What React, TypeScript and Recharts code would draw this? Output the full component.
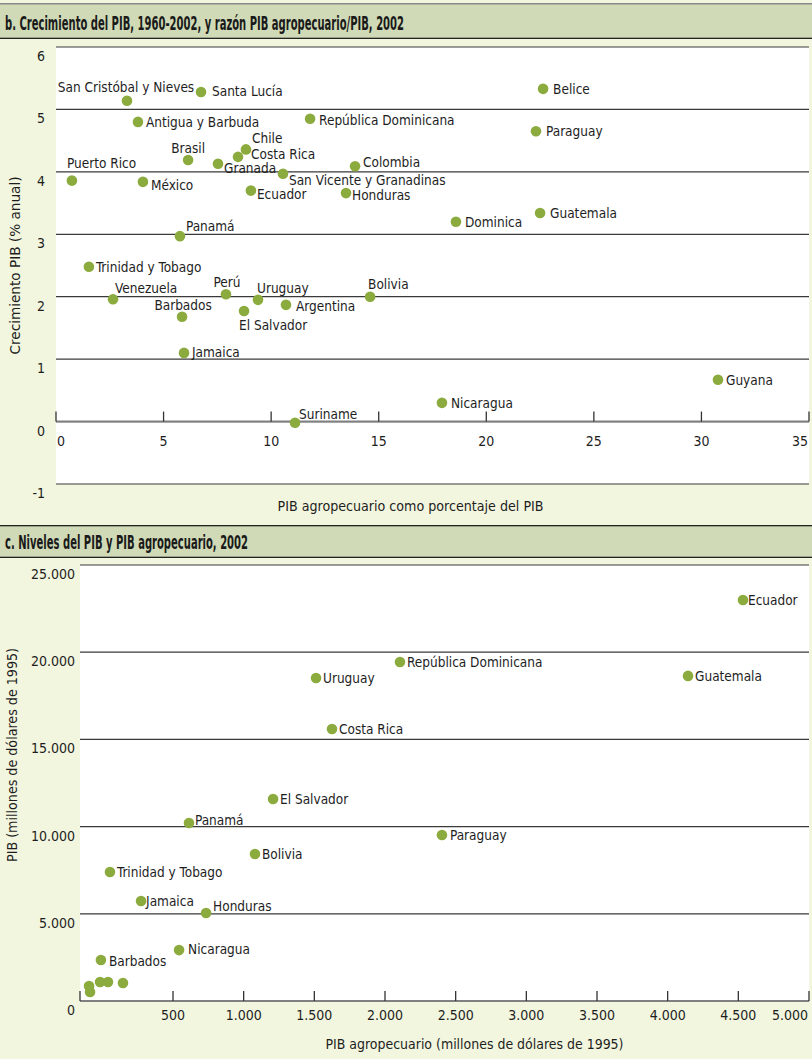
import React from 'react';
import { ScatterChart, Scatter, XAxis, YAxis, CartesianGrid, ReferenceLine } from 'recharts';

// ---------- Panel b data ----------
const countriesB = [
  'San Cristóbal y Nieves', 'Santa Lucía', 'Antigua y Barbuda', 'República Dominicana', 'Chile',
  'Costa Rica', 'Brasil', 'Granada', 'Puerto Rico', 'México', 'San Vicente y Granadinas',
  'Colombia', 'Ecuador', 'Honduras', 'Panamá', 'Trinidad y Tobago', 'Venezuela', 'Perú',
  'Uruguay', 'Argentina', 'Bolivia', 'Barbados', 'El Salvador', 'Jamaica', 'Suriname',
  'Nicaragua', 'Guyana', 'Belice', 'Paraguay', 'Dominica', 'Guatemala',
];
const agriShareB = [
  3.30, 6.74, 3.81, 11.81, 8.83,
  8.46, 6.14, 7.53, 0.74, 4.04, 10.55,
  13.90, 9.06, 13.48, 5.76, 1.53, 2.65, 7.90,
  9.39, 10.69, 14.60, 5.86, 8.74, 5.95, 11.11,
  17.94, 30.77, 22.64, 22.31, 18.59, 22.50,
];
const growthB = [
  5.14, 5.28, 4.80, 4.85, 4.36,
  4.24, 4.19, 4.13, 3.86, 3.84, 3.97,
  4.09, 3.70, 3.66, 2.97, 2.48, 1.96, 2.04,
  1.95, 1.87, 2.00, 1.68, 1.77, 1.10, -0.02,
  0.30, 0.67, 5.33, 4.65, 3.20, 3.34,
];
const xTicksB = [0, 5, 10, 15, 20, 25, 30, 35];
const yTicksB = [-1, 0, 1, 2, 3, 4, 5, 6];

// ---------- Panel c data ----------
const countriesC = [
  'Ecuador', 'República Dominicana', 'Guatemala', 'Uruguay', 'Costa Rica', 'El Salvador',
  'Panamá', 'Paraguay', 'Bolivia', 'Trinidad y Tobago', 'Jamaica', 'Honduras', 'Nicaragua',
  'Barbados', '', '', '', '', '',
];
const agriGdpC = [
  4533, 2106, 4144, 1512, 1625, 1208,
  613, 2403, 1080, 54, 274, 734, 543,
  -10, -94, -87, -16, 40, 146,
];
const gdpC = [
  22990, 19440, 18640, 18520, 15600, 11580,
  10210, 9520, 8430, 7400, 5730, 5050, 2920,
  2350, 860, 520, 1090, 1090, 1030,
];
const xMinC = -158;
const xTicksC = [xMinC, 500, 1000, 1500, 2000, 2500, 3000, 3500, 4000, 4500, 5000];
const yTicksC = [0, 5000, 10000, 15000, 20000, 25000];

// ---------- styles ----------
const FONT = '"Liberation Sans Narrow", "DejaVu Sans Condensed", "Arial Narrow", sans-serif';
const GREEN = '#8cab3e';
const TEXT = '#1e1e1e';
const PANEL_BG = '#f3f6df';
const TITLE_BG = '#d0dab6';
const LABEL_SIZE = 13.5;
const AXIS_SIZE = 14;

type Off = [string, number, number];
const LABEL_B: Record<string, Off> = {
  'San Cristóbal y Nieves': ['middle', -1, -9],
  'Santa Lucía': ['start', 11, 4],
  'Antigua y Barbuda': ['start', 8, 5],
  'República Dominicana': ['start', 9, 6],
  'Chile': ['start', 6, -6],
  'Costa Rica': ['start', 13, 2],
  'Brasil': ['middle', 0, -7],
  'Granada': ['start', 6, 9],
  'Puerto Rico': ['start', -5, -13],
  'México': ['start', 8, 8],
  'San Vicente y Granadinas': ['start', 6, 11],
  'Colombia': ['start', 8, 1],
  'Ecuador': ['start', 6, 8],
  'Honduras': ['start', 6, 7],
  'Panamá': ['start', 6, -5],
  'Trinidad y Tobago': ['start', 7, 5],
  'Venezuela': ['start', 2, -6],
  'Perú': ['middle', 1, -7],
  'Uruguay': ['start', -1, -7],
  'Argentina': ['start', 10, 6],
  'Bolivia': ['start', -2, -8],
  'Barbados': ['middle', 1, -7],
  'El Salvador': ['start', -5, 19],
  'Jamaica': ['start', 8, 4],
  'Suriname': ['start', 4, -4],
  'Nicaragua': ['start', 9, 5],
  'Guyana': ['start', 8, 5],
  'Belice': ['start', 10, 5],
  'Paraguay': ['start', 10, 5],
  'Dominica': ['start', 9, 5],
  'Guatemala': ['start', 10, 5],
};
const LABEL_C: Record<string, Off> = {
  'Ecuador': ['start', 5, 5],
  'Panamá': ['start', 6, 2],
  'Honduras': ['start', 7, -2],
  'Jamaica': ['start', 5, 5],
  'Nicaragua': ['start', 9, 4],
  'Paraguay': ['start', 8, 5],
  'Barbados': ['start', 8, 6],
};
const DEFAULT_OFF: Off = ['start', 7, 5];

const dataB = countriesB.map((name, i) => ({ name, x: agriShareB[i], y: growthB[i] }));
const dataC = countriesC.map((name, i) => ({ name, x: agriGdpC[i], y: gdpC[i] }));
const tickDataB = xTicksB.map((t) => ({ x: t, y: 0 }));

const fmtThousands = (v: number) => String(v).replace(/\B(?=(\d{3})+(?!\d))/g, '.');

const makeDot = (offsets: Record<string, Off>) => (props: any) => {
  const { cx, cy, payload } = props;
  if (cx == null || cy == null) return <g />;
  const o = offsets[payload.name] || DEFAULT_OFF;
  return (
    <g>
      <circle cx={cx} cy={cy} r={5.3} fill={GREEN} />
      {payload.name ? (
        <text x={cx + o[1]} y={cy + o[2]} textAnchor={o[0] as any} fontSize={LABEL_SIZE} fill={TEXT} fontFamily={FONT}>
          {payload.name}
        </text>
      ) : null}
    </g>
  );
};

const TickMarkB = (props: any) => {
  const { cx, cy, payload } = props;
  const v = payload.x;
  const first = v === xTicksB[0];
  const last = v === xTicksB[xTicksB.length - 1];
  const anchor = first ? 'start' : last ? 'end' : 'middle';
  const tx = first ? cx + 1 : last ? cx - 1 : cx;
  return (
    <g>
      <line x1={cx} y1={cy} x2={cx} y2={cy - 10} stroke="#333" strokeWidth={1.3} />
      <text x={tx} y={cy + 24} textAnchor={anchor} fontSize={AXIS_SIZE} fill={TEXT} fontFamily={FONT}>{v}</text>
    </g>
  );
};

const XTickC = (props: any) => {
  const { x, y, payload } = props;
  const v = payload.value;
  const last = v === xTicksC[xTicksC.length - 1];
  return (
    <g>
      <line x1={x} y1={y} x2={x} y2={y - 10} stroke="#333" strokeWidth={1.3} />
      {v > 0 ? (
        <text x={last ? x - 1 : x} y={y + 19} textAnchor={last ? 'end' : 'middle'} fontSize={AXIS_SIZE} fill={TEXT} fontFamily={FONT}>
          {fmtThousands(v)}
        </text>
      ) : null}
    </g>
  );
};

const makeYTick = (fmt: (v: number) => string) => (props: any) => {
  const { x, y, payload } = props;
  return (
    <text x={x} y={y + 14} textAnchor="end" fontSize={AXIS_SIZE} fill={TEXT} fontFamily={FONT}>
      {fmt(payload.value)}
    </text>
  );
};

const yLabel = (value: string, bx: number, dy: number, len: number) => ({
  value,
  content: (p: any) => {
    const vb = p.viewBox || {};
    const x = (vb.x || 0) + bx;
    const y = (vb.y || 0) + (vb.height || 0) / 2 + dy;
    return (
      <text x={x} y={y} transform={`rotate(-90 ${x} ${y})`} textAnchor="middle" fontSize={AXIS_SIZE} fill={TEXT} fontFamily={FONT} textLength={len} lengthAdjust="spacingAndGlyphs">
        {value}
      </text>
    );
  },
});

const xLabel = (value: string, dx: number, by: number, len: number) => ({
  value,
  content: (p: any) => {
    const vb = p.viewBox || {};
    const x = (vb.x || 0) + (vb.width || 0) / 2 + dx;
    const y = (vb.y || 0) + by;
    return (
      <text x={x} y={y} textAnchor="middle" fontSize={AXIS_SIZE} fill={TEXT} fontFamily={FONT} textLength={len} lengthAdjust="spacingAndGlyphs">
        {value}
      </text>
    );
  },
});

const TitleBar = ({ text, top, height, width, topLine }: any) => (
  <svg width={812} height={height} style={{ position: 'absolute', left: 0, top, display: 'block' }}>
    <rect x={0} y={0} width={812} height={height} fill={TITLE_BG} />
    {topLine ? <rect x={0} y={0} width={812} height={1.5} fill="#8a8a8a" /> : <rect x={0} y={0} width={812} height={1.3} fill="#222" />}
    <rect x={0} y={height - 1.3} width={812} height={1.3} fill="#222" />
    <text x={5} y={height - 9} fontSize={20} fontWeight="bold" fill="#1a1a1a" fontFamily={FONT} textLength={width} lengthAdjust="spacingAndGlyphs">
      {text}
    </text>
  </svg>
);

export default function App() {
  return (
    <div style={{ position: 'absolute', left: 0, top: 0, width: 812, height: 1059, background: PANEL_BG, fontFamily: FONT, overflow: 'hidden' }}>
      <TitleBar text="b. Crecimiento del PIB, 1960-2002, y razón PIB agropecuario/PIB, 2002" top={3} height={36} width={399} topLine />
      <div style={{ position: 'absolute', left: 0, top: 39 }}>
        <ScatterChart width={812} height={486} margin={{ top: 8, right: 3, bottom: 0, left: 0 }}>
          <CartesianGrid horizontal vertical={false} stroke="#3a3a3a" strokeWidth={1.2} fill="#ffffff" />
          <XAxis
            type="number"
            dataKey="x"
            domain={[0, 35]}
            ticks={xTicksB}
            tick={false}
            tickLine={false}
            axisLine={false}
            height={41}
            label={xLabel('PIB agropecuario como porcentaje del PIB', -22, 27, 266)}
          />
          <YAxis
            type="number"
            dataKey="y"
            domain={[-1, 6]}
            ticks={yTicksB}
            interval={0}
            width={56}
            tickLine={false}
            axisLine={false}
            tickSize={0}
            tickMargin={11}
            tick={makeYTick((v) => String(v))}
            label={yLabel('Crecimiento PIB (% anual)', 20, 0, 178)}
          />
          <ReferenceLine y={0} stroke="#808080" strokeWidth={2} />
          <Scatter data={tickDataB} shape={TickMarkB} isAnimationActive={false} />
          <Scatter data={dataB} shape={makeDot(LABEL_B)} isAnimationActive={false} />
        </ScatterChart>
      </div>
      <TitleBar text="c. Niveles del PIB y PIB agropecuario, 2002" top={525} height={33} width={243} />
      <div style={{ position: 'absolute', left: 0, top: 558 }}>
        <ScatterChart width={812} height={501} margin={{ top: 7, right: 3, bottom: 0, left: 0 }}>
          <CartesianGrid horizontal vertical={false} stroke="#3a3a3a" strokeWidth={1.2} fill="#ffffff" />
          <XAxis
            type="number"
            dataKey="x"
            domain={[xMinC, 5000]}
            ticks={xTicksC}
            interval={0}
            tickLine={false}
            tickSize={0}
            tickMargin={0}
            axisLine={{ stroke: '#808080', strokeWidth: 2 }}
            tick={XTickC}
            height={58}
            label={xLabel('PIB agropecuario (millones de dólares de 1995)', 30, 48, 298)}
          />
          <YAxis
            type="number"
            dataKey="y"
            domain={[0, 25000]}
            ticks={yTicksC}
            interval={0}
            width={80}
            tickLine={false}
            axisLine={false}
            tickSize={0}
            tickMargin={5}
            tick={makeYTick(fmtThousands)}
            label={yLabel('PIB (millones de dólares de 1995)', 17, -28, 214)}
          />
          <Scatter data={dataC} shape={makeDot(LABEL_C)} isAnimationActive={false} />
        </ScatterChart>
      </div>
    </div>
  );
}
